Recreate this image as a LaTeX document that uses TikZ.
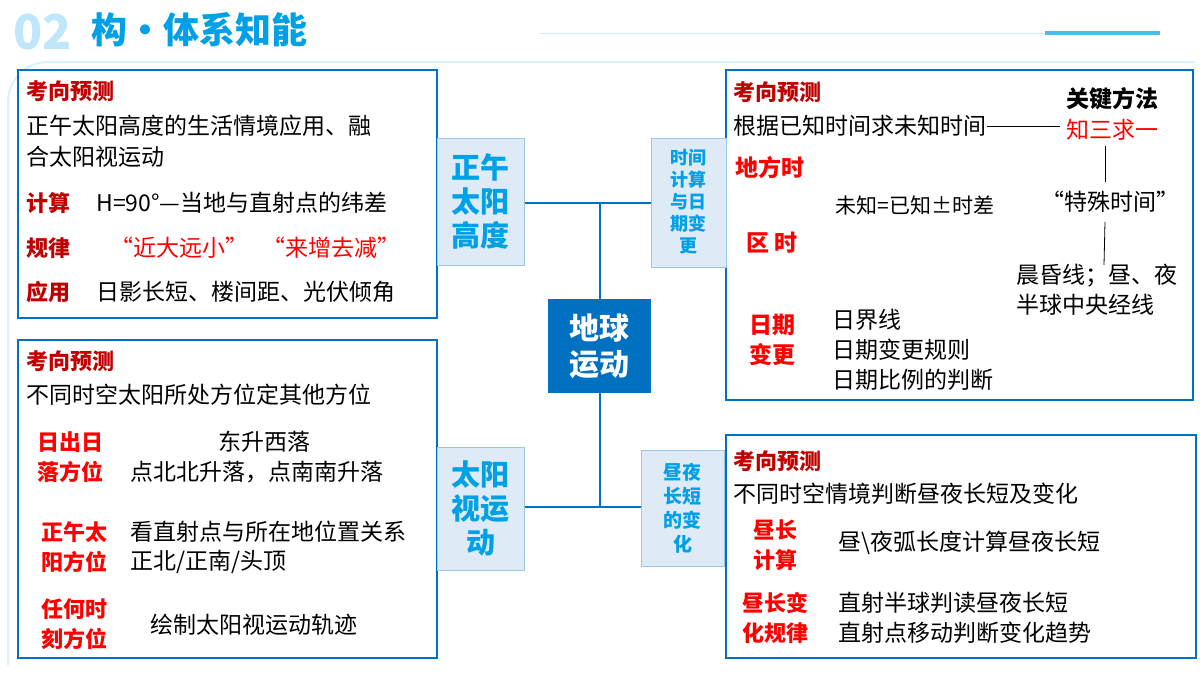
\documentclass[tikz,border=0pt]{standalone}
\usepackage{fontspec}
\setmainfont{Noto Sans CJK SC}
\usetikzlibrary{positioning}
\definecolor{DeepBlue}{RGB}{0,112,192}
\definecolor{SkyBlue}{RGB}{0,160,230}
\definecolor{PaleBlue}{RGB}{222,235,247}
\definecolor{TitleRed}{RGB}{192,0,0}
\definecolor{KeyRed}{RGB}{255,0,0}

\begin{document}
\begin{tikzpicture}[x=0.5pt, y=-0.5pt,
		panel/.style={draw=DeepBlue, line width=0.8pt, fill=white},
		tag/.style={draw=DeepBlue!40, fill=PaleBlue, line width=0.5pt},
		tagtext/.style={text=SkyBlue, font=\bfseries, align=center, inner sep=0pt},
		head/.style={anchor=west, text=TitleRed, font=\fontsize{11}{12}\selectfont\bfseries, inner sep=0pt},
		body/.style={anchor=west, font=\fontsize{11.5}{15}\selectfont, inner sep=0pt, align=left},
		key/.style={text=KeyRed, font=\fontsize{11}{15}\selectfont\bfseries, inner sep=0pt, align=center},
		link/.style={draw=DeepBlue, line width=0.8pt}]

	\useasboundingbox (0,0) rectangle (1200,675);
	% heading
	\node[anchor=west, text=SkyBlue!25, font=\fontsize{24}{24}\selectfont\bfseries] (num) at (6,32) {02};
	\node[anchor=west, text=SkyBlue, font=\fontsize{18}{18}\selectfont\bfseries] (title) at (84,30) {构·体系知能};
	\fill[SkyBlue!20] (540,33) rectangle (1160,34);
	\fill[SkyBlue!70] (1045,31) rectangle (1160,35);
	\draw[SkyBlue!15, line width=1pt, rounded corners=20pt] (8,665) -- (8,62) -- (1195,62);

	% panels
	\draw[panel] (18,70) rectangle (437,318);
	\draw[panel] (18,340) rectangle (437,658);
	\draw[panel] (726,70) rectangle (1193,400);
	\draw[panel] (726,435) rectangle (1196,658);

	% hub and branches
	\coordinate (hubtop) at (600,203);
	\coordinate (hubbot) at (600,507);
	\draw[link] (hubtop) -- (hubbot);
	\draw[link] (524,203) -- (651,203);
	\draw[link] (524,507) -- (641,507);
	\node[draw=DeepBlue, fill=DeepBlue, text=white, font=\fontsize{15}{18}\selectfont\bfseries,
		minimum width=51pt, minimum height=46.5pt, align=center] (hub) at (599,346) {地球\\运动};

	\draw[tag] (437,138) rectangle (524,265);
	\node[tagtext, font=\fontsize{14.5}{17}\selectfont\bfseries] (noon) at (480.5,201) {正午\\太阳\\高度};
	\draw[tag] (437,447) rectangle (524,570);
	\node[tagtext, font=\fontsize{14.5}{17}\selectfont\bfseries] (apparent) at (480.5,508) {太阳\\视运\\动};
	\draw[tag] (651,138) rectangle (726,267);
	\node[tagtext, font=\fontsize{9}{11}\selectfont\bfseries] (timecalc) at (688.5,202) {时间\\计算\\与日\\期变\\更};
	\draw[tag] (641,450) rectangle (724,566);
	\node[tagtext, font=\fontsize{9.5}{12}\selectfont\bfseries] (daylen) at (682.5,508) {昼夜\\长短\\的变\\化};

	% panel A
	\node[head] (a0) at (26,91) {考向预测};
	\node[body] (a1) at (26,126) {正午太阳高度的生活情境应用、融};
	\node[body] (a2) at (26,157) {合太阳视运动};
	\node[head] (a3) at (26,203) {计算};
	\node[body] (a4) at (96,203) {H=90°—当地与直射点的纬差};
	\node[head] (a5) at (26,248) {规律};
	\node[body, text=KeyRed] (a6) at (110,248) {“近大远小”};
	\node[body, text=KeyRed] (a7) at (262,248) {“来增去减”};
	\node[head] (a8) at (26,292) {应用};
	\node[body] (a9) at (96,292) {日影长短、楼间距、光伏倾角};

	% panel B
	\node[head] (b0) at (26,361) {考向预测};
	\node[body] (b1) at (26,395) {不同时空太阳所处方位定其他方位};
	\node[key] (b2) at (70,457) {日出日\\落方位};
	\node[body] (b3) at (218,442) {东升西落};
	\node[body] (b4) at (130,472) {点北北升落，点南南升落};
	\node[key] (b5) at (74,547) {正午太\\阳方位};
	\node[body] (b6) at (130,532) {看直射点与所在地位置关系};
	\node[body] (b7) at (130,562) {正北/正南/头顶};
	\node[key] (b8) at (74,624) {任何时\\刻方位};
	\node[body] (b9) at (150,625) {绘制太阳视运动轨迹};

	% panel C
	\node[head] (c0) at (733,92) {考向预测};
	\node[body] (c1) at (733,126) {根据已知时间求未知时间};
	\node[font=\fontsize{11.5}{13}\selectfont\bfseries, inner sep=0pt] (c2) at (1112,99) {关键方法};
	\node[text=KeyRed, font=\fontsize{11.5}{13}\selectfont, inner sep=0pt] (c3) at (1112,130) {知三求一};
	\node[font=\fontsize{11.5}{13}\selectfont, inner sep=0pt] (c4) at (1110,202) {“特殊时间”};
	\node[body] (c5) at (1016,290) {晨昏线；昼、夜\\半球中央经线};
	\draw (c1.east) -- ([xshift=-3pt]c3.west |- c1.east);
	\draw (1105,146) -- (1105,182);
	\draw (1105,222) -- (1104,265);
	\node[key, anchor=west, font=\fontsize{11.5}{13}\selectfont\bfseries] (c6) at (735,168) {地方时};
	\node[body, font=\fontsize{10.5}{12}\selectfont] (c7) at (835,205) {未知=已知±时差};
	\node[key, anchor=west, font=\fontsize{11.5}{13}\selectfont\bfseries] (c8) at (746,243) {区 时};
	\node[key, font=\fontsize{11.5}{15}\selectfont\bfseries] (c9) at (772,340) {日期\\变更};
	\node[body] (c10) at (832,350) {日界线\\日期变更规则\\日期比例的判断};

	% panel D
	\node[head] (d0) at (733,461) {考向预测};
	\node[body] (d1) at (733,494) {不同时空情境判断昼夜长短及变化};
	\node[key] (d2) at (775,545) {昼长\\计算};
	\node[body] (d3) at (838,543) {昼\textbackslash 夜弧长度计算昼夜长短};
	\node[key] (d4) at (775,618) {昼长变\\化规律};
	\node[body] (d5) at (838,618) {直射半球判读昼夜长短\\直射点移动判断变化趋势};
\end{tikzpicture}
\end{document}
